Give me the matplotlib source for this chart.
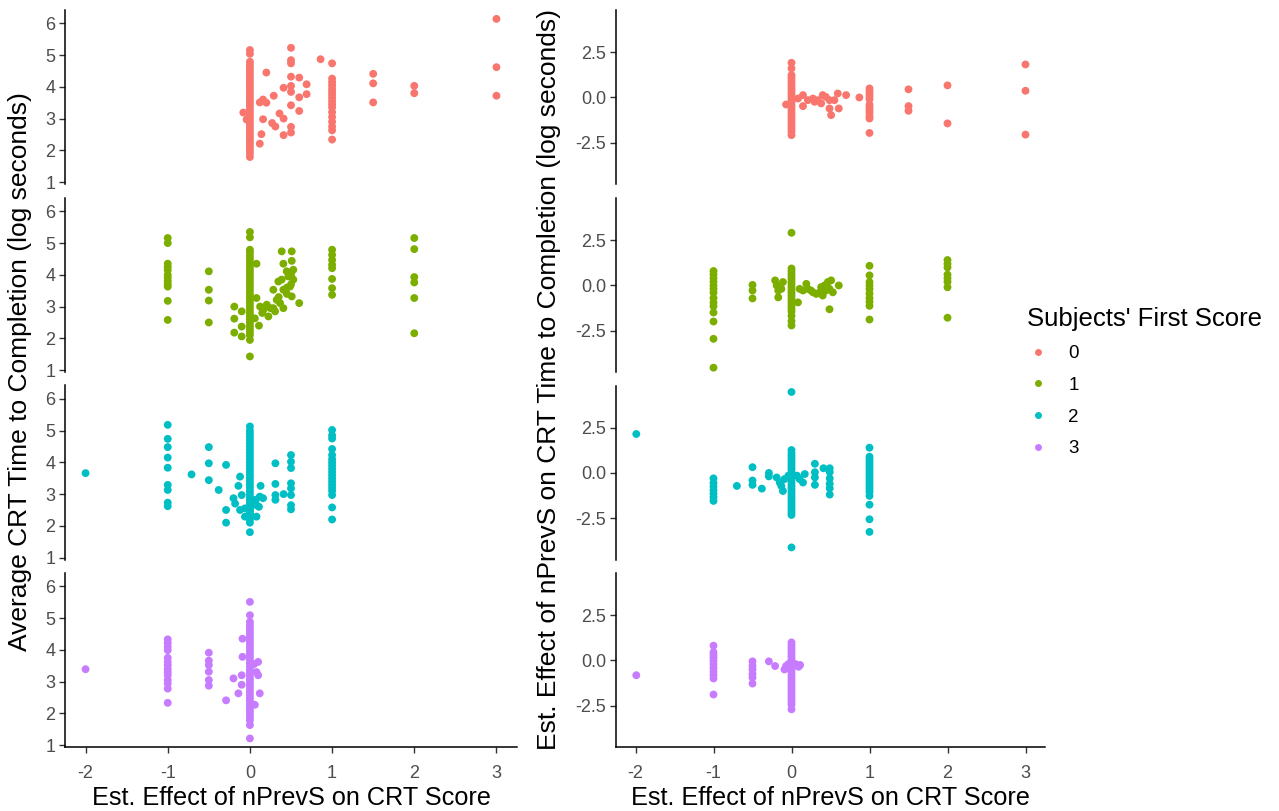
import matplotlib
matplotlib.use('Agg')
import matplotlib.pyplot as plt
from matplotlib.lines import Line2D

plt.rcParams['font.family'] = ['Liberation Sans', 'DejaVu Sans']

# Colours (ggplot default hue palette)
colors = ['#F8766D', '#7CAE00', '#00BFC4', '#C77CFF']
groups = ['0', '1', '2', '3']

# Each entry: (effect of nPrevS on CRT score, [values at that x])

# ---- Left column: average CRT time to completion (log seconds) ----
time_g0 = [
    (0, [5.16, 5.04, 4.79, 4.7, 4.6, 4.5, 4.4, 4.3, 4.2, 4.1, 4.0, 3.9, 3.8, 3.7, 3.6, 3.5, 3.4, 3.3, 3.2,
         3.1, 3.0, 2.9, 2.8, 2.7, 2.6, 2.5, 2.4, 2.3, 2.2, 2.1, 2.0, 1.9, 1.79]),
    (-0.08, [3.19]), (-0.04, [2.97]), (0.12, [2.21, 3.51]), (0.14, [2.51]), (0.16, [3.6, 2.98]),
    (0.2, [3.5, 4.45]), (0.27, [2.86]), (0.29, [3.72]), (0.31, [2.75]), (0.36, [3.16]),
    (0.41, [3.0, 3.97, 2.48]), (0.5, [5.23, 4.84, 4.74, 4.32, 4.03, 3.84, 3.42, 2.74, 2.56]),
    (0.6, [4.29, 3.67, 3.24]), (0.69, [4.08, 3.77]), (0.86, [4.87]),
    (1, [4.74, 4.26, 4.15, 4.05, 3.95, 3.85, 3.75, 3.65, 3.55, 3.45, 3.35, 3.2, 3.05, 2.9, 2.75, 2.63, 2.34]),
    (1.5, [4.41, 4.11, 3.51]), (2, [4.03, 3.8]), (3, [6.14, 4.62, 3.72]),
]

time_g1 = [
    (-1, [5.16, 5.0, 4.35, 4.25, 4.15, 4.0, 3.9, 3.8, 3.7, 3.63, 3.18, 2.58]),
    (-0.5, [4.11, 3.53, 3.19, 2.5]),
    (-0.19, [3.0, 2.62, 2.18]), (-0.1, [2.85, 2.37, 2.06]),
    (0, [5.35, 5.18, 4.79, 4.7, 4.6, 4.5, 4.4, 4.3, 4.2, 4.1, 4.0, 3.9, 3.8, 3.7, 3.6, 3.5, 3.4, 3.3, 3.2,
         3.1, 3.0, 2.9, 2.8, 2.7, 2.6, 2.5, 2.4, 2.3, 2.2, 2.1, 1.95, 1.43]),
    (0.06, [2.63]), (0.08, [4.35, 3.27]), (0.11, [2.4]), (0.124, [3.0]), (0.15, [2.8]), (0.164, [2.9]),
    (0.205, [3.06]), (0.225, [2.69]), (0.25, [2.95]), (0.285, [2.95, 3.53]), (0.306, [2.85]),
    (0.326, [3.21]), (0.346, [3.79]), (0.35, [3.3]), (0.367, [3.11]), (0.387, [3.85, 4.74]),
    (0.407, [3.53, 2.95, 4.35]), (0.448, [4.11]), (0.45, [3.6, 3.4]), (0.468, [3.95]), (0.488, [3.63]),
    (0.5, [3.7, 4.0]), (0.509, [3.32, 4.74, 4.44]), (0.528, [4.16, 3.85]), (0.6, [3.11]),
    (1, [4.79, 4.63, 4.47, 4.32, 4.21, 3.87, 3.58, 3.37]),
    (2, [5.16, 4.81, 3.93, 3.76, 3.27, 2.16]),
]

time_g2 = [
    (-2, [3.66]), (-1, [5.18, 4.74, 4.48, 4.15, 3.83, 3.29, 3.13, 2.73, 2.62]), (-0.71, [3.62]),
    (-0.5, [4.48, 3.97, 3.44]), (-0.38, [3.13]), (-0.29, [3.92, 2.5, 2.1]), (-0.2, [2.87]), (-0.18, [2.7]),
    (-0.14, [3.26]), (-0.12, [3.55, 2.5]), (-0.1, [2.97]), (-0.06, [2.55, 2.29]),
    (0, [5.13, 5.0, 4.9, 4.8, 4.7, 4.6, 4.5, 4.4, 4.3, 4.2, 4.1, 4.0, 3.9, 3.8, 3.7, 3.6, 3.5, 3.4, 3.3,
         3.2, 3.1, 3.0, 2.9, 2.8, 2.7, 2.6, 2.55, 2.5, 2.45, 2.4, 2.35, 2.3, 2.2, 2.1, 1.8]),
    (0.07, [2.82]), (0.08, [2.65, 2.29]), (0.11, [2.6]), (0.12, [2.92]), (0.13, [3.26]), (0.16, [2.87]),
    (0.31, [3.97, 3.32, 2.97, 2.82]), (0.41, [3.0]),
    (0.5, [4.23, 4.02, 3.82, 3.34, 3.18, 2.97, 2.65, 2.52]),
    (1, [5.02, 4.85, 4.75, 4.42, 4.23, 4.1, 4.0, 3.9, 3.8, 3.7, 3.6, 3.5, 3.4, 3.3, 3.2, 3.1, 2.97,
         2.58, 2.2]),
]

time_g3 = [
    (-2, [3.39]),
    (-1, [4.33, 4.22, 4.1, 3.99, 3.75, 3.62, 3.52, 3.4, 3.3, 3.2, 3.05, 2.94, 2.78, 2.33]),
    (-0.5, [3.91, 3.66, 3.52, 3.31, 3.05, 2.87]),
    (-0.29, [2.41]), (-0.2, [3.1]), (-0.14, [2.63]), (-0.1, [3.2, 2.9]), (-0.09, [4.35, 3.78]),
    (0, [5.51, 5.09, 4.88, 4.78, 4.68, 4.58, 4.48, 4.38, 4.28, 4.18, 4.08, 3.98, 3.88, 3.78, 3.68, 3.58,
         3.48, 3.38, 3.28, 3.18, 3.08, 2.98, 2.88, 2.78, 2.68, 2.58, 2.48, 2.38, 2.28, 2.18, 2.08, 1.98,
         1.88, 1.78, 1.63, 1.21]),
    (0.05, [3.55]), (0.06, [2.27]), (0.08, [3.3]), (0.1, [3.62, 3.2]), (0.12, [2.63]),
]

# ---- Right column: est. effect of nPrevS on CRT time (log seconds) ----
eff_g0 = [
    (0, [1.92, 1.61, 1.24, 1.1, 0.95, 0.8, 0.65, 0.5, 0.35, 0.2, 0.05, -0.1, -0.25, -0.4, -0.55, -0.7,
         -0.85, -1.0, -1.15, -1.3, -1.45, -1.6, -1.75, -1.9, -2.09]),
    (-0.07, [-0.39]), (0.083, [-0.06]), (0.147, [0.13, -0.48]), (0.21, [-0.15]), (0.275, [-0.06]),
    (0.296, [-0.24]), (0.338, [-0.15]), (0.38, [-0.33]), (0.4, [0.13]), (0.44, [0.03]),
    (0.487, [-0.15, -0.61]), (0.508, [-0.98]), (0.55, [-0.15]), (0.593, [0.22]), (0.606, [-0.61]),
    (0.7, [0.13]), (0.87, [0.0]),
    (1, [0.5, 0.35, 0.2, 0.05, -0.1, -0.4, -0.55, -0.7, -0.85, -1.05, -1.17, -1.97]),
    (1.5, [0.45, -0.48, -0.74]), (2, [0.67, -1.44]), (3, [1.83, 0.37, -2.06]),
]

eff_g1 = [
    (-1, [0.8, 0.6, 0.4, 0.2, 0.0, -0.2, -0.4, -0.7, -0.95, -1.15, -1.5, -2.0, -2.96, -4.56]),
    (-0.5, [0.03, -0.28, -0.72]),
    (-0.21, [0.28]), (-0.19, [0.0]), (-0.17, [-0.28, -0.66]), (-0.13, [-0.19]), (-0.11, [0.19]),
    (0, [2.92, 0.94, 0.8, 0.65, 0.5, 0.35, 0.2, 0.05, -0.1, -0.25, -0.4, -0.55, -0.7, -0.85, -1.0,
         -1.15, -1.3, -1.45, -1.69, -1.98, -2.22]),
    (0.083, [-0.94]), (0.104, [-0.19]), (0.147, [-0.28]), (0.19, [0.09]), (0.21, [-0.19]),
    (0.25, [-0.28]), (0.275, [-0.38]), (0.317, [-0.47]), (0.36, [-0.38]), (0.38, [-0.09]),
    (0.4, [-0.56]), (0.423, [0.0]), (0.444, [-0.28]), (0.466, [0.19]), (0.487, [-0.19, -1.32]),
    (0.508, [0.28]), (0.53, [-0.38]), (0.606, [0.0]),
    (1, [1.09, 0.56, 0.19, 0.0, -0.2, -0.45, -0.7, -0.9, -1.13, -1.89]),
    (2, [1.41, 1.2, 1.0, 0.6, 0.4, 0.2, -0.1, -1.79]),
]

eff_g2 = [
    (-1.99, [2.16]), (-1, [-0.3, -0.55, -0.75, -0.95, -1.15, -1.35, -1.55]), (-0.7, [-0.72]),
    (-0.5, [0.32, -0.42, -0.66]), (-0.38, [-0.87]), (-0.29, [0.0, -0.19]),
    (-0.19, [-0.25]), (-0.15, [-0.53]), (-0.13, [-0.72]), (-0.11, [-1.0]), (-0.09, [-0.34]),
    (-0.04, [-0.15]), (0.07, [-0.15]), (0.104, [-0.34]), (0.147, [-0.53]), (0.17, [-0.06]),
    (0, [4.49, 1.27, 1.1, 0.95, 0.8, 0.65, 0.5, 0.35, 0.2, 0.05, -0.1, -0.25, -0.4, -0.55, -0.7, -0.85,
         -1.0, -1.15, -1.3, -1.45, -1.6, -1.75, -1.9, -2.05, -2.2, -2.33, -4.13]),
    (0.3, [0.51, 0.04, -0.25, -0.66]), (0.41, [0.26]),
    (0.49, [0.26, 0.05, -0.3, -0.6, -0.85, -1.2]),
    (1, [1.4, 0.9, 0.75, 0.6, 0.45, 0.3, 0.15, 0.0, -0.15, -0.3, -0.45, -0.6, -0.75, -0.9, -1.05, -1.27,
         -1.76, -2.57, -3.27]),
]

eff_g3 = [
    (-1.99, [-0.82]),
    (-1, [0.82, 0.46, 0.3, 0.15, 0.0, -0.2, -0.4, -0.6, -0.8, -1.0, -1.89]),
    (-0.5, [-0.05, -0.3, -0.5, -0.75, -0.95, -1.28]),
    (-0.29, [-0.05]), (-0.21, [-0.31]), (-0.09, [-0.5]), (-0.07, [-0.31]), (-0.04, [-0.2]),
    (0.05, [-0.2]), (0.09, [-0.35]), (0.11, [-0.25]),
    (0, [1.0, 0.85, 0.7, 0.55, 0.4, 0.25, 0.1, -0.05, -0.2, -0.35, -0.5, -0.65, -0.8, -0.95, -1.1,
         -1.25, -1.4, -1.55, -1.7, -1.85, -2.0, -2.15, -2.3, -2.45, -2.71]),
]

time_data = [time_g0, time_g1, time_g2, time_g3]
eff_data = [eff_g0, eff_g1, eff_g2, eff_g3]

x_ticks = [-2, -1, 0, 1, 2, 3]
time_ticks = [1, 2, 3, 4, 5, 6]
eff_ticks = [-2.5, 0.0, 2.5]
eff_tick_labels = ['-2.5', '0.0', '2.5']


def flatten(cols):
    xs, ys = [], []
    for x, vals in cols:
        xs += [x] * len(vals)
        ys += vals
    return xs, ys


W, H = 1279, 811
fig = plt.figure(figsize=(W / 100, H / 100), dpi=100)

panel_tops = [10, 198, 385.5, 573]
panel_h = 174
columns = [(65, 517), (616, 1045)]


def style_axis(ax, bottom):
    for s in ['top', 'right']:
        ax.spines[s].set_visible(False)
    for s in ['left', 'bottom']:
        ax.spines[s].set_linewidth(1.1)
        ax.spines[s].set_color('black')
    ax.spines['bottom'].set_visible(bottom)
    ax.tick_params(axis='both', length=4, width=1, color='#333333', labelcolor='#4D4D4D',
                   labelsize=13)
    ax.tick_params(axis='y', pad=3)
    ax.tick_params(axis='x', pad=9)
    if not bottom:
        ax.tick_params(axis='x', bottom=False, labelbottom=False)
    ax.set_xlim(-2.25, 3.25)
    ax.set_xticks(x_ticks)
    ax.set_xticklabels([str(t) for t in x_ticks])


for col, (x0, x1) in enumerate(columns):
    for i in range(4):
        top = panel_tops[i]
        ax = fig.add_axes([x0 / W, 1 - (top + panel_h) / H, (x1 - x0) / W, panel_h / H])
        if col == 0:
            xs, ys = flatten(time_data[i])
            ax.scatter(xs, ys, s=32, color=colors[i], edgecolors='none')
            ax.set_ylim(0.94, 6.42)
            ax.set_yticks(time_ticks)
        else:
            xs, ys = flatten(eff_data[i])
            ax.scatter(xs, ys, s=32, color=colors[i], edgecolors='none')
            ax.set_ylim(-4.8, 4.85)
            ax.set_yticks(eff_ticks)
            ax.set_yticklabels(eff_tick_labels)
        style_axis(ax, bottom=(i == 3))
        if i == 3:
            ax.set_xlabel('Est. Effect of nPrevS on CRT Score', fontsize=18.2, color='black', labelpad=3)

fig.text(20 / W, 1 - 372 / H, 'Average CRT Time to Completion (log seconds)', rotation=90,
         ha='center', va='center', fontsize=19)
fig.text(549 / W, 1 - 380 / H, 'Est. Effect of nPrevS on CRT Time to Completion (log seconds)', rotation=90,
         ha='center', va='center', fontsize=19)

handles = [Line2D([], [], marker='o', linestyle='none', markersize=5, markerfacecolor=c,
                  markeredgecolor='none') for c in colors]
leg = fig.legend(handles, groups, title="Subjects' First Score", loc='upper left',
                 bbox_to_anchor=(1010 / W, 1 - 290 / H), frameon=False, fontsize=13.5,
                 title_fontsize=18.5, labelspacing=0.77, handletextpad=1.0, handlelength=1.2)
leg._legend_box.align = 'left'

fig.savefig('out.png', dpi=100)
